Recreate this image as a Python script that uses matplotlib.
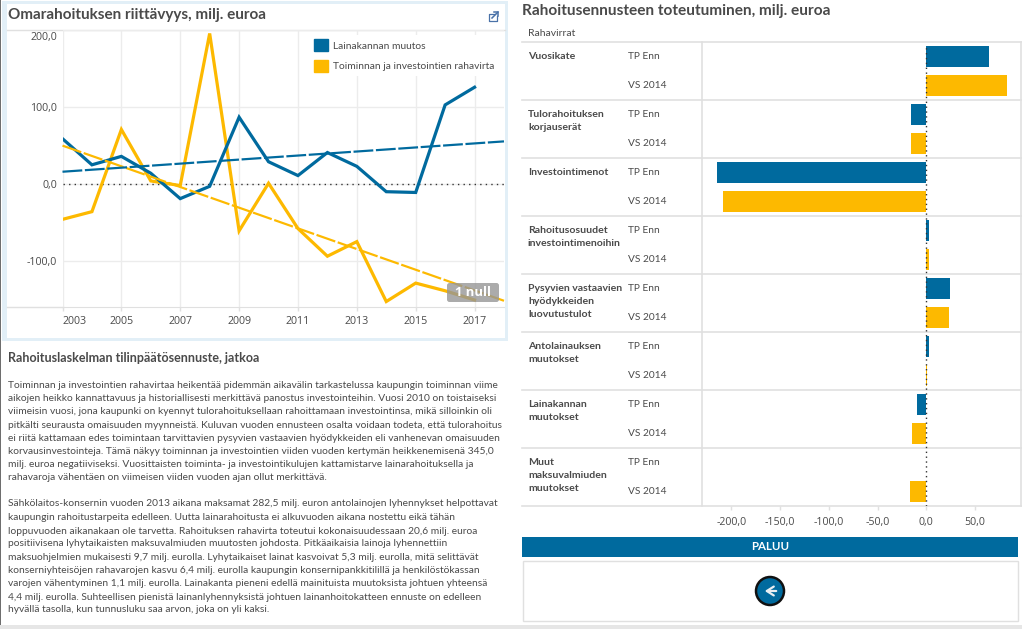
import matplotlib
matplotlib.use("Agg")
import matplotlib.pyplot as plt
from matplotlib.patches import Rectangle, FancyBboxPatch, Circle, Patch
from matplotlib.transforms import ScaledTranslation

W, H = 1022, 629
BLUE, YELLOW = "#006a9e", "#fdb900"
TXT, GRID = "#4a4a4a", "#ececec"
RULE = "#e0e0e0"
FONT = "Open Sans"
BODYFONT = "Lato"

# ---------- data ----------
years = list(range(2003, 2018))
lainakanta = [59, 25, 36, 14, -19, -3, 87, 29, 11, 41, 23, -10, -11, 103, 126]
rahavirta = [-46, -36, 71, 4, -2, 196, -61, 1, -58, -94, -75, -153, -129, -139, -151]
trend_years = [2003, 2018]
trend_laina = [16, 55.5]
trend_raha = [50, -152]
year_ticks = list(range(2003, 2018, 2))
value_ticks = [200, 100, 0, -100]
value_labels = ["200,0", "100,0", "0,0", "-100,0"]
series_names = ["Lainakannan muutos", "Toiminnan ja investointien rahavirta"]

row_labels = [["Vuosikate"], ["Tulorahoituksen", "korjauserät"], ["Investointimenot"],
              ["Rahoitusosuudet", "investointimenoihin"],
              ["Pysyvien vastaavien", "hyödykkeiden", "luovutustulot"],
              ["Antolainauksen", "muutokset"], ["Lainakannan", "muutokset"],
              ["Muut", "maksuvalmiuden", "muutokset"]]
tp_enn = [64.3, -15.7, -214.7, 2.7, 24.3, 2.7, -9.6, -0.8]
vs_2014 = [82.7, -15.7, -208.5, 2.7, 23.2, 0.7, -14.7, -16.7]
bar_ticks = [-200, -150, -100, -50, 0, 50]
bar_tick_labels = ["-200,0", "-150,0", "-100,0", "-50,0", "0,0", "50,0"]

heading_left = "Omarahoituksen riittävyys, milj. euroa"
heading_right = "Rahoitusennusteen toteutuminen, milj. euroa"
heading_body = "Rahoituslaskelman tilinpäätösennuste, jatkoa"
para1 = [
 "Toiminnan ja investointien rahavirtaa heikentää pidemmän aikavälin tarkastelussa kaupungin toiminnan viime",
 "aikojen heikko kannattavuus ja historiallisesti merkittävä panostus investointeihin. Vuosi 2010 on toistaiseksi",
 "viimeisin vuosi, jona kaupunki on kyennyt tulorahoituksellaan rahoittamaan investointinsa, mikä silloinkin oli",
 "pitkälti seurausta omaisuuden myynneistä. Kuluvan vuoden ennusteen osalta voidaan todeta, että tulorahoitus",
 "ei riitä kattamaan edes toimintaan tarvittavien pysyvien vastaavien hyödykkeiden eli vanhenevan omaisuuden",
 "korvausinvestointeja. Tämä näkyy toiminnan ja investointien viiden vuoden kertymän heikkenemisenä 345,0",
 "milj. euroa negatiiviseksi. Vuosittaisten toiminta- ja investointikulujen kattamistarve lainarahoituksella ja",
 "rahavaroja vähentäen on viimeisen viiden vuoden ajan ollut merkittävä.",
]
para2 = [
 "Sähkölaitos-konsernin vuoden 2013 aikana maksamat 282,5 milj. euron antolainojen lyhennykset helpottavat",
 "kaupungin rahoitustarpeita edelleen. Uutta lainarahoitusta ei alkuvuoden aikana nostettu eikä tähän",
 "loppuvuoden aikanakaan ole tarvetta. Rahoituksen rahavirta toteutui kokonaisuudessaan 20,6 milj. euroa",
 "positiivisena lyhytaikaisten maksuvalmiuden muutosten johdosta. Pitkäaikaisia lainoja lyhennettiin",
 "maksuohjelmien mukaisesti 9,7 milj. eurolla. Lyhytaikaiset lainat kasvoivat 5,3 milj. eurolla, mitä selittävät",
 "konserniyhteisöjen rahavarojen kasvu 6,4 milj. eurolla kaupungin konsernipankkitilillä ja henkilöstökassan",
 "varojen vähentyminen 1,1 milj. eurolla. Lainakanta pieneni edellä mainituista muutoksista johtuen yhteensä",
 "4,4 milj. eurolla. Suhteellisen pienistä lainanlyhennyksistä johtuen lainanhoitokatteen ennuste on edelleen",
 "hyvällä tasolla, kun tunnusluku saa arvon, joka on yli kaksi.",
]

# ---------- page in pixel coordinates ----------
fig = plt.figure(figsize=(W / 100, H / 100), dpi=100, facecolor="white")
page = fig.add_axes([0, 0, 1, 1])
page.set_xlim(0, W); page.set_ylim(H, 0); page.axis("off")

def pax(x0, y0, x1, y1):
    return fig.add_axes([x0 / W, 1 - y1 / H, (x1 - x0) / W, (y1 - y0) / H], facecolor="none")

def px(v):
    return v * 0.72

page.add_patch(Rectangle((0, 624.5), W, 5, color="#e6e6e6", lw=0))
page.add_patch(Rectangle((0, 0), 1, 625, color="#6e6e6e", lw=0))
page.add_patch(Rectangle((1.5, 1), 506.5, 339.7, color="#e2eff7", lw=0))
page.add_patch(Rectangle((6.7, 4), 498.6, 334.3, color="white", lw=0))
page.plot([7, 505], [30.3, 30.3], color=RULE, lw=1)
page.text(8, 15, heading_left, fontsize=px(15.25), color=TXT, family=BODYFONT, weight="bold", va="center")
page.text(522, 11, heading_right, fontsize=px(15.4), color=TXT, family=BODYFONT, weight="bold", va="center")
page.text(8, 357.7, heading_body, fontsize=px(12.5), color=TXT, family=BODYFONT, weight="bold", va="center")

# expand icon
ic = "#4a72a8"
page.plot([495, 488.5, 488.5, 497, 497], [14, 14, 21, 21, 16], color=ic, lw=0.9)
page.plot([492, 498], [18, 12], color=ic, lw=1.1)
page.plot([494, 498, 498], [11.5, 11.5, 15.5], color=ic, lw=1.1)

# body text
ys1 = [385, 398.4, 412, 425.3, 438.3, 451.3, 464.3, 478]
ys2 = [504, 517, 531, 544, 557.5, 570.5, 583.5, 597, 610]
for line, y in list(zip(para1, ys1)) + list(zip(para2, ys2)):
    page.text(8, y, line, fontsize=px(10.32), color=TXT, family=BODYFONT, va="center")

# ---------- line chart ----------
ax = pax(62.5, 30.4, 504, 307.3)
ax.set_xlim(2003, 2018); ax.set_ylim(-160.5, 200)
for s in ("top", "right", "left"):
    ax.spines[s].set_visible(False)
ax.spines["bottom"].set_color(RULE)
page.plot([7, 62.5], [307.3, 307.3], color=RULE, lw=1)
ax.set_xticks(year_ticks)
ax.set_xticklabels([str(y) for y in year_ticks], fontsize=px(10.6), color=TXT, family=FONT)
ax.set_yticks(value_ticks)
ax.set_yticklabels(value_labels, fontsize=px(10.6), color=TXT, family=FONT)
ax.tick_params(axis="x", length=3, color=RULE, width=1, pad=3.5)
ax.tick_params(axis="y", length=0, pad=4)
ax.get_xticklabels()[0].set_ha("left")
top_label = ax.get_yticklabels()[0]
top_label.set_va("top")
top_label.set_transform(top_label.get_transform() + ScaledTranslation(0, -2 / 100, fig.dpi_scale_trans))
ax.grid(True, color=GRID, lw=1)
ax.set_axisbelow(True)
ax.axhline(0, color="#333333", lw=1, dashes=(1, 3), zorder=1.5)
ax.plot(years, rahavirta, color=YELLOW, lw=px(3.2), zorder=3, solid_joinstyle="miter")
ax.plot(years, lainakanta, color=BLUE, lw=px(3.2), zorder=3.2, solid_joinstyle="miter")
ax.plot(trend_years, trend_raha, color=YELLOW, lw=px(2.2), dashes=(9, 1.2), zorder=3.3, clip_on=False)
ax.plot(trend_years, trend_laina, color=BLUE, lw=px(2.2), dashes=(9, 1.2), zorder=3.4, clip_on=False)
leg = ax.legend(handles=[Patch(color=BLUE, label=series_names[0]), Patch(color=YELLOW, label=series_names[1])],
                loc="upper left", bbox_to_anchor=((309.5 - 62.5) / 441.5, 1 - 4.3 / 276.9),
                frameon=True, framealpha=1, facecolor="white", edgecolor="none", fancybox=False,
                prop={"family": BODYFONT, "size": px(10.2)}, labelcolor=TXT,
                handlelength=1.4, handleheight=1.4, handletextpad=0.5, labelspacing=0.85,
                borderpad=0.45, borderaxespad=0)
leg.set_zorder(4)

# badge
page.set_zorder(0); ax.set_zorder(1)
over = fig.add_axes([0, 0, 1, 1], facecolor="none", zorder=5)
over.set_xlim(0, W); over.set_ylim(H, 0); over.axis("off")
over.add_patch(FancyBboxPatch((447, 283), 52, 19, boxstyle="round,pad=0,rounding_size=2.5",
                              fc="#969696", ec="none", lw=0, alpha=0.8))
over.text(473, 293, "1 null", fontsize=px(13), color="white", family=FONT, weight="bold", ha="center", va="center")

# ---------- bar chart ----------
top, row_h = 42.3, 58
n = len(row_labels)
bx = pax(702.3, top, 1021.7, top + n * row_h)
scale = 0.975
bx.set_xlim(-(926.3 - 702.3) / scale, (1021.7 - 926.3) / scale)
bx.set_ylim(n, 0)
for s in ("top", "bottom", "left", "right"):
    bx.spines[s].set_visible(False)
rows = list(range(n))
bx.barh([r + 0.245 for r in rows], tp_enn, height=0.362, color=BLUE, zorder=2)
bx.barh([r + 0.745 for r in rows], vs_2014, height=0.362, color=YELLOW, zorder=2)
bx.axvline(0, ymin=0, ymax=0.995, color="#333333", lw=1, dashes=(1, 2.5), zorder=3)
bx.set_yticks([])
bx.set_xticks(bar_ticks)
bx.set_xticklabels(bar_tick_labels, fontsize=px(10.6), color=TXT, family=FONT)
bx.tick_params(axis="x", length=3, color=RULE, width=1, pad=5)

page.text(528, 34, "Rahavirrat", fontsize=px(10.4), color=TXT, family=BODYFONT, va="center")
for i in range(n + 1):
    y = top + i * row_h
    page.plot([522, 1021.7], [y, y], color=RULE, lw=1.2)
page.plot([702.3, 702.3], [top, top + n * row_h], color=RULE, lw=1.2)
page.plot([1021.4, 1021.4], [top, top + n * row_h], color=RULE, lw=1.2)
for i, lines in enumerate(row_labels):
    y0 = top + i * row_h
    for j, line in enumerate(lines):
        page.text(528, y0 + 14.5 + j * 13, line, fontsize=px(10.5), color=TXT, family=BODYFONT, weight="bold", va="center")
    page.text(628, y0 + 14, "TP Enn", fontsize=px(10.1), color=TXT, family=BODYFONT, va="center")
    page.text(628, y0 + 43, "VS 2014", fontsize=px(10.1), color=TXT, family=BODYFONT, va="center")

# ---------- back button ----------
page.add_patch(Rectangle((522, 537), 496, 20, color=BLUE, lw=0))
page.text(770, 546.3, "PALUU", fontsize=px(11.5), color="white", family=BODYFONT, weight="bold", ha="center", va="center")
page.add_patch(Rectangle((522.5, 560.5), 495, 60, fc="white", ec=RULE, lw=1))
page.add_patch(Circle((770, 591), 14, fc=BLUE, ec="#111111", lw=px(2.5)))
page.annotate("", xy=(762, 591), xytext=(779, 591),
              arrowprops=dict(arrowstyle="->,head_width=0.32,head_length=0.5", color="#e8eef2", lw=1.6))

fig.savefig("out.png", dpi=100)
